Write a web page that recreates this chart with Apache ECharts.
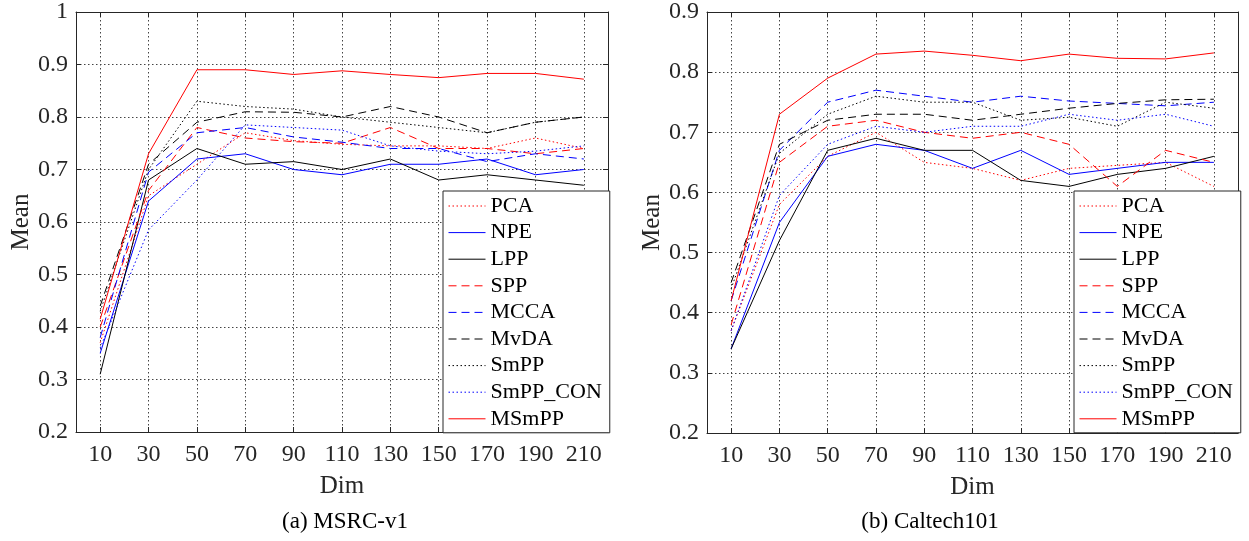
<!DOCTYPE html>
<html>
<head>
<meta charset="utf-8">
<script src="https://cdn.jsdelivr.net/npm/echarts@6/dist/echarts.min.js"></script>
<style>
  html, body { margin: 0; padding: 0; background: #fff; }
  #chart { width: 1249px; height: 541px; }
</style>
</head>
<body>
<div id="chart"></div>
<script>
// x positions (Dim) shared by both panels
var dims = [10, 30, 50, 70, 90, 110, 130, 150, 170, 190, 210];
var methods = ['PCA', 'NPE', 'LPP', 'SPP', 'MCCA', 'MvDA', 'SmPP', 'SmPP_CON', 'MSmPP'];
var yTicksMsrc = [0.2, 1.0];
var yTicksCaltech = [0.2, 0.9];

// (a) MSRC-v1
var msrcPCA     = [0.37, 0.65, 0.71, 0.77, 0.755, 0.748, 0.745, 0.745, 0.74, 0.76, 0.74];
var msrcNPE     = [0.35, 0.64, 0.72, 0.73, 0.70, 0.69, 0.71, 0.71, 0.72, 0.69, 0.70];
var msrcLPP     = [0.31, 0.68, 0.74, 0.71, 0.715, 0.70, 0.72, 0.68, 0.69, 0.68, 0.67];
var msrcSPP     = [0.40, 0.66, 0.78, 0.76, 0.753, 0.75, 0.78, 0.74, 0.74, 0.73, 0.74];
var msrcMCCA    = [0.38, 0.695, 0.77, 0.78, 0.762, 0.752, 0.74, 0.74, 0.715, 0.73, 0.72];
var msrcMvDA    = [0.44, 0.71, 0.79, 0.81, 0.809, 0.80, 0.82, 0.80, 0.77, 0.79, 0.80];
var msrcSmPP    = [0.43, 0.70, 0.83, 0.82, 0.815, 0.80, 0.79, 0.78, 0.77, 0.79, 0.80];
var msrcSmPPCON = [0.36, 0.585, 0.68, 0.785, 0.78, 0.775, 0.745, 0.735, 0.73, 0.735, 0.745];
var msrcMSmPP   = [0.415, 0.73, 0.89, 0.89, 0.881, 0.888, 0.881, 0.875, 0.883, 0.883, 0.872];

// (b) Caltech101
var calPCA     = [0.37, 0.58, 0.66, 0.70, 0.65, 0.64, 0.62, 0.64, 0.645, 0.65, 0.61];
var calNPE     = [0.34, 0.55, 0.66, 0.68, 0.67, 0.64, 0.67, 0.63, 0.64, 0.65, 0.65];
var calLPP     = [0.34, 0.52, 0.67, 0.69, 0.67, 0.67, 0.62, 0.61, 0.63, 0.64, 0.66];
var calSPP     = [0.38, 0.65, 0.71, 0.72, 0.70, 0.69, 0.70, 0.68, 0.61, 0.67, 0.65];
var calMCCA    = [0.42, 0.67, 0.75, 0.77, 0.76, 0.75, 0.76, 0.752, 0.748, 0.744, 0.75];
var calMvDA    = [0.45, 0.68, 0.72, 0.73, 0.73, 0.72, 0.73, 0.74, 0.748, 0.754, 0.755];
var calSmPP    = [0.44, 0.665, 0.73, 0.76, 0.75, 0.75, 0.72, 0.725, 0.71, 0.75, 0.74];
var calSmPPCON = [0.37, 0.595, 0.68, 0.71, 0.70, 0.71, 0.71, 0.73, 0.72, 0.73, 0.71];
var calMSmPP   = [0.42, 0.73, 0.79, 0.83, 0.835, 0.828, 0.819, 0.83, 0.823, 0.822, 0.832];

var FONT = "'Liberation Serif', 'Times New Roman', serif";
var AXIS_COLOR = '#262626';
var DOT = [1.5, 2.5];
var DASH = [8, 5];

// colour / dash per method
var styles = {
  'PCA':      { color: '#ff0000', type: DOT },
  'NPE':      { color: '#0000ff', type: 'solid' },
  'LPP':      { color: '#000000', type: 'solid' },
  'SPP':      { color: '#ff0000', type: DASH },
  'MCCA':     { color: '#0000ff', type: DASH },
  'MvDA':     { color: '#000000', type: DASH },
  'SmPP':     { color: '#000000', type: DOT },
  'SmPP_CON': { color: '#0000ff', type: DOT },
  'MSmPP':    { color: '#ff0000', type: 'solid' }
};

var msrcData = [msrcPCA, msrcNPE, msrcLPP, msrcSPP, msrcMCCA, msrcMvDA, msrcSmPP, msrcSmPPCON, msrcMSmPP];
var calData  = [calPCA, calNPE, calLPP, calSPP, calMCCA, calMvDA, calSmPP, calSmPPCON, calMSmPP];

function makeSeries(name, vals, panel){
  var st = styles[name];
  return {
    name: name,
    type: 'line',
    xAxisIndex: panel * 2,
    yAxisIndex: panel * 2,
    symbol: 'none',
    showSymbol: false,
    animation: false,
    emphasis: { disabled: true },
    itemStyle: { color: st.color },
    lineStyle: { color: st.color, width: 1, type: st.type },
    data: dims.map(function(d, i){ return [d, vals[i]]; })
  };
}

function xAxes(panel){
  var bottom = {
    gridIndex: panel, type: 'value', min: 0, max: 220, position: 'bottom',
    axisLine: { show: true, onZero: false, lineStyle: { color: AXIS_COLOR, width: 1 } },
    axisTick: { show: true, inside: true, length: 5, customValues: dims, lineStyle: { color: AXIS_COLOR } },
    axisLabel: { customValues: dims, margin: 11, fontSize: 24, fontFamily: FONT, color: AXIS_COLOR },
    splitLine: { show: true, lineStyle: { color: '#444', width: 1, type: DOT } },
    name: 'Dim', nameLocation: 'middle', nameGap: 42,
    nameTextStyle: { fontSize: 25, fontFamily: FONT, color: AXIS_COLOR }
  };
  var top = {
    gridIndex: panel, type: 'value', min: 0, max: 220, position: 'top',
    axisLine: { show: true, onZero: false, lineStyle: { color: AXIS_COLOR, width: 1 } },
    axisTick: { show: true, inside: true, length: 5, customValues: dims, lineStyle: { color: AXIS_COLOR } },
    axisLabel: { show: false, customValues: dims },
    splitLine: { show: false }
  };
  return [bottom, top];
}

function yAxes(panel, ext){
  var left = {
    gridIndex: panel, type: 'value', min: ext[0], max: ext[1], interval: 0.1, position: 'left',
    axisLine: { show: true, onZero: false, lineStyle: { color: AXIS_COLOR, width: 1 } },
    axisTick: { show: true, inside: true, length: 5, lineStyle: { color: AXIS_COLOR } },
    axisLabel: { margin: 8, fontSize: 24, fontFamily: FONT, color: AXIS_COLOR },
    splitLine: { show: true, lineStyle: { color: '#444', width: 1, type: DOT } },
    name: 'Mean', nameLocation: 'middle', nameGap: 40,
    nameTextStyle: { fontSize: 25, fontFamily: FONT, color: AXIS_COLOR }
  };
  var right = {
    gridIndex: panel, type: 'value', min: ext[0], max: ext[1], interval: 0.1, position: 'right',
    axisLine: { show: true, onZero: false, lineStyle: { color: AXIS_COLOR, width: 1 } },
    axisTick: { show: true, inside: true, length: 5, lineStyle: { color: AXIS_COLOR } },
    axisLabel: { show: false },
    splitLine: { show: false }
  };
  return [left, right];
}

function legendAt(x){
  return {
    data: methods, orient: 'vertical', left: x, top: 191,
    itemWidth: 37, itemHeight: 14, itemGap: 4.6,
    padding: [4, 8, 3, 5],
    borderColor: AXIS_COLOR, borderWidth: 1, backgroundColor: '#fff',
    selectedMode: false, z: 10,
    itemStyle: { opacity: 0 },   // hide the symbol, keep only the line sample
    lineStyle: { width: 1 },
    textStyle: { fontFamily: FONT, fontSize: 22, color: '#000', lineHeight: 22 }
  };
}

var series = [];
methods.forEach(function(m, i){ series.push(makeSeries(m, msrcData[i], 0)); });
methods.forEach(function(m, i){ series.push(makeSeries(m, calData[i], 1)); });

var myChart = echarts.init(document.getElementById('chart'));
myChart.setOption({
  animation: false,
  backgroundColor: '#fff',
  title: [
    { text: '(a) MSRC-v1', left: 340, top: 505, textAlign: 'center',
      textStyle: { fontFamily: FONT, fontSize: 23, fontWeight: 'normal', color: '#000' } },
    { text: '(b) Caltech101', left: 925, top: 505, textAlign: 'center',
      textStyle: { fontFamily: FONT, fontSize: 23, fontWeight: 'normal', color: '#000' } }
  ],
  grid: [
    { left: 76, top: 5, width: 532, height: 427 },
    { left: 707, top: 8, width: 531, height: 425 }
  ],
  xAxis: xAxes(0).concat(xAxes(1)),
  yAxis: yAxes(0, yTicksMsrc).concat(yAxes(1, yTicksCaltech)),
  legend: [legendAt(443), legendAt(1074)],
  series: series
});
</script>
</body>
</html>
